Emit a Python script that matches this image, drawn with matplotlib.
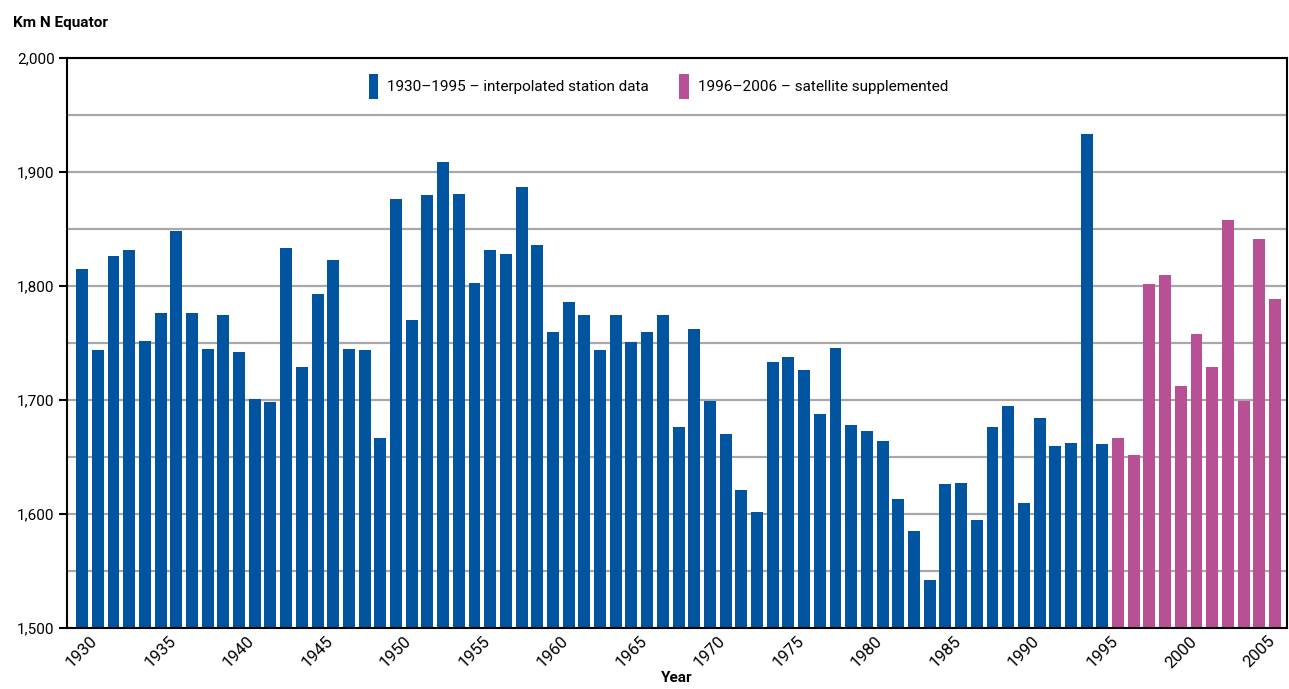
import matplotlib
matplotlib.use("Agg")
import matplotlib.pyplot as plt
from matplotlib.patches import Patch
from matplotlib.ticker import FuncFormatter, MultipleLocator

plt.rcParams["font.family"] = ["Roboto", "DejaVu Sans"]

# Annual values (km north of the equator)
station_years = list(range(1930, 1996))
station_values = [
    1815, 1744, 1826, 1832, 1752, 1776, 1848, 1776, 1745, 1775,
    1742, 1701, 1698, 1833, 1729, 1793, 1823, 1745, 1744, 1667,
    1876, 1770, 1880, 1909, 1881, 1803, 1832, 1828, 1887, 1836,
    1760, 1786, 1775, 1744, 1775, 1751, 1760, 1775, 1676, 1762,
    1699, 1670, 1621, 1602, 1733, 1738, 1726, 1688, 1746, 1678,
    1673, 1664, 1613, 1585, 1542, 1626, 1627, 1595, 1676, 1695,
    1610, 1684, 1660, 1662, 1933, 1661,
]
satellite_years = list(range(1996, 2007))
satellite_values = [1667, 1652, 1802, 1810, 1712, 1758, 1729, 1858, 1699, 1841, 1789]

station_label = "1930\u20131995 \u2013 interpolated station data"
satellite_label = "1996\u20132006 \u2013 satellite supplemented"

BLUE = "#0054a0"
MAGENTA = "#b85096"

fig = plt.figure(figsize=(12.89, 6.89), dpi=100)
ax = fig.add_axes([0.052, 0.0885, 0.9464, 0.8273])

ax.bar(station_years, station_values, width=0.76, color=BLUE, zorder=2)
ax.bar(satellite_years, satellite_values, width=0.76, color=MAGENTA, zorder=2)

ax.set_xlim(1929.04, 2006.76)
ax.set_ylim(1500, 2000)

ax.yaxis.set_major_locator(MultipleLocator(100))
ax.yaxis.set_minor_locator(MultipleLocator(50))
ax.yaxis.set_major_formatter(FuncFormatter(lambda v, _: f"{v:,.0f}"))
ax.grid(True, which="both", axis="y", color="#a8a8a8", linewidth=1.6, zorder=1)
ax.set_axisbelow(True)

ax.set_xticks(range(1930, 2007, 5))
ax.tick_params(axis="x", length=0, labelsize=12, pad=4, labelrotation=45)
ax.tick_params(axis="y", which="major", length=6, width=1.5, labelsize=11, pad=3)
ax.tick_params(axis="y", which="minor", length=0)

for side in ("left", "bottom", "top", "right"):
    ax.spines[side].set_linewidth(1.5)
    ax.spines[side].set_color("black")

ax.set_xlabel("Year", fontsize=11, fontweight="bold", labelpad=0)
fig.text(0.010, 0.966, "Km N Equator", fontsize=11, fontweight="bold",
         ha="left", va="center")

handles = [Patch(facecolor=BLUE, label=station_label),
           Patch(facecolor=MAGENTA, label=satellite_label)]
ax.legend(handles=handles, loc="center", bbox_to_anchor=(0.4848, 0.950), ncol=2,
          frameon=False, fontsize=11, handlelength=0.6, handleheight=2.2,
          handletextpad=0.6, columnspacing=2.0)

fig.savefig("out.png", dpi=100)
